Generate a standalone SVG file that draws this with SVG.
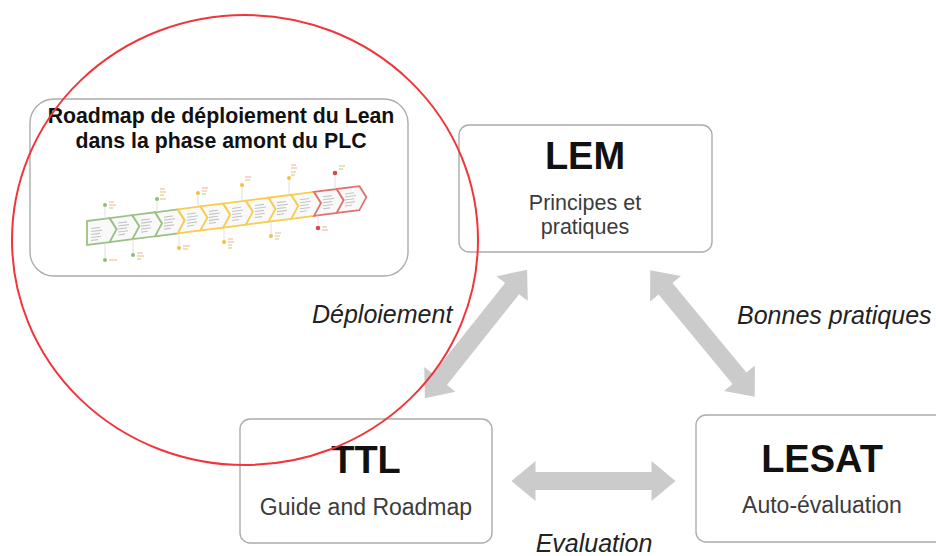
<svg xmlns="http://www.w3.org/2000/svg" xmlns:xlink="http://www.w3.org/1999/xlink" width="936" height="556" viewBox="0 0 936 556">
  <style>
    .box { fill: #ffffff; stroke: #acacac; stroke-width: 1.4; }
    .title { font-family: "Liberation Sans", Arial, sans-serif; font-weight: bold; fill: #111111; text-anchor: middle; }
    .sub { font-family: "Liberation Sans", Arial, sans-serif; font-size: 23px; fill: #3c3c3c; text-anchor: middle; }
    .sub2 { font-family: "Liberation Sans", Arial, sans-serif; font-size: 21.5px; fill: #3c3c3c; text-anchor: middle; }
    .lbl { font-family: "Liberation Sans", Arial, sans-serif; font-style: italic; font-size: 25px; fill: #222222; }
    .arrow { fill: #cbcbcb; }
    .chev { fill: #f9f9f9; stroke-width: 1.8; stroke-linejoin: miter; }
    .g { stroke: #9cc283; }
    .y { stroke: #f6cd4c; }
    .r { stroke: #df7373; }
    .tx { stroke: #c4c4c4; stroke-width: 1.1; fill: none; }
    .lead { stroke: #d8d8d8; stroke-width: 0.8; }
  </style>
  <defs>
    <polygon id="dbl" points="-82,0 -58,-20 -58,-9 58,-9 58,-20 82,0 58,20 58,9 -58,9 -58,20"/>
  </defs>
  <rect width="936" height="556" fill="#ffffff"/>

  <g id="connectors">
    <use xlink:href="#dbl" class="arrow" transform="translate(476,334) rotate(-51.45)"/>
    <use xlink:href="#dbl" class="arrow" transform="translate(702.5,333.5) rotate(50.4)"/>
    <use xlink:href="#dbl" class="arrow" transform="translate(593.5,481)"/>
  </g>

  <g id="labels">
    <text class="lbl" x="312" y="323">Déploiement</text>
    <text class="lbl" x="737" y="324">Bonnes pratiques</text>
    <text class="lbl" x="594" y="552" text-anchor="middle">Evaluation</text>
  </g>

  <g id="node-roadmap">
    <rect class="box" x="30" y="99" width="378" height="177" rx="24"/>
    <text class="title" font-size="21.3" x="221" y="123">Roadmap de déploiement du Lean</text>
    <text class="title" font-size="21.3" x="221" y="148">dans la phase amont du PLC</text>
    <g transform="translate(87,221) skewY(-7.3)">
      <polygon class="chev g" points="0,0 22.7,0 29.7,12 22.7,24 0,24"/>
      <polygon class="chev g" points="22.7,0 45.4,0 52.4,12 45.4,24 22.7,24 29.7,12"/>
      <polygon class="chev g" points="45.4,0 68.1,0 75.1,12 68.1,24 45.4,24 52.4,12"/>
      <polygon class="chev g" points="68.1,0 90.8,0 97.8,12 90.8,24 68.1,24 75.1,12"/>
      <polygon class="chev y" points="90.8,0 113.5,0 120.5,12 113.5,24 90.8,24 97.8,12"/>
      <polygon class="chev y" points="113.5,0 136.2,0 143.2,12 136.2,24 113.5,24 120.5,12"/>
      <polygon class="chev y" points="136.2,0 158.9,0 165.9,12 158.9,24 136.2,24 143.2,12"/>
      <polygon class="chev y" points="158.9,0 181.6,0 188.6,12 181.6,24 158.9,24 165.9,12"/>
      <polygon class="chev y" points="181.6,0 204.3,0 211.3,12 204.3,24 181.6,24 188.6,12"/>
      <polygon class="chev y" points="204.3,0 227,0 234,12 227,24 204.3,24 211.3,12"/>
      <polygon class="chev r" points="227,0 249.7,0 256.7,12 249.7,24 227,24 234,12"/>
      <polygon class="chev r" points="249.7,0 272.4,0 279.4,12 272.4,24 249.7,24 256.7,12"/>
      <path class="tx" d="M4 8h9M4 11h11M4 14h9M4 17h10M4 20h7
        M31 6h9M31 9h11M31 12h9M31 15h10M31 18h7
        M54 6h9M54 9h11M54 12h9M54 15h10M54 18h7
        M77 6h9M77 9h11M77 12h9M77 15h10M77 18h7
        M100 6h9M100 9h11M100 12h9M100 15h10M100 18h7
        M122 6h9M122 9h11M122 12h9M122 15h10M122 18h7
        M145 6h9M145 9h11M145 12h9M145 15h10M145 18h7
        M168 6h9M168 9h11M168 12h9M168 15h10M168 18h7
        M190 6h9M190 9h11M190 12h9M190 15h10M190 18h7
        M213 6h9M213 9h11M213 12h9M213 15h10M213 18h7
        M236 6h9M236 9h11M236 12h9M236 15h10M236 18h7
        M258 6h9M258 9h11M258 12h9M258 15h10M258 18h7"/>
    </g>
    <g id="markers">
      <path class="lead" d="M105 207V218.7M157 201V212M198 195V206.8M242 187V201M289 180V195M335 175V189
        M105 242.7V258M133 239V253M179 233V246M224 227.5V240M271 221.5V234M318 215.5V225"/>
      <g fill="#8fbf6e">
        <circle cx="105" cy="205" r="2"/><circle cx="157" cy="199" r="2"/>
        <circle cx="105" cy="260" r="2"/><circle cx="133" cy="255" r="2"/>
      </g>
      <g fill="#f3c23c">
        <circle cx="198" cy="193" r="2"/><circle cx="242" cy="185" r="2"/><circle cx="289" cy="178" r="2"/>
        <circle cx="179" cy="248" r="2"/><circle cx="224" cy="242" r="2"/><circle cx="271" cy="236" r="2"/>
      </g>
      <g fill="#d84a4a">
        <circle cx="335" cy="173" r="2.3"/><circle cx="318" cy="228" r="2.3"/>
      </g>
      <path stroke="#eeb58a" stroke-width="1" fill="none" d="M109 202h5M109 205h7
        M160 189h5M160 192h6M160 199h6
        M202 188h6M202 191h5
        M245 177h6M245 180h5
        M291 165h5M291 168h6M291 172h5
        M339 166h6
        M109 260h8
        M137 253h6M137 256h7
        M183 246h7M183 249h5
        M228 239h5M228 242h6M228 245h4
        M275 233h6M275 236h5
        M322 230h6"/>
      <path stroke="#a9d08e" stroke-width="1" fill="none" d="M109 208h4M160 195h4M202 194h4M291 175h4M339 169h4M137 259h4M228 248h4M275 239h4M322 227h5"/>
    </g>
  </g>

  <g id="node-lem">
    <rect class="box" x="459" y="125" width="253" height="127" rx="10"/>
    <text class="title" font-size="38" x="585" y="169">LEM</text>
    <text class="sub2" x="585" y="210">Principes et</text>
    <text class="sub2" x="585" y="234">pratiques</text>
  </g>

  <g id="node-ttl">
    <rect class="box" x="240" y="419" width="252" height="124" rx="10"/>
    <text class="title" font-size="38" x="366" y="473">TTL</text>
    <text class="sub" x="366" y="515">Guide and Roadmap</text>
  </g>

  <g id="node-lesat">
    <rect class="box" x="696" y="415" width="252" height="127" rx="10"/>
    <text class="title" font-size="38" x="822" y="472">LESAT</text>
    <text class="sub" x="822" y="513">Auto-évaluation</text>
  </g>

  <g id="highlight">
    <ellipse cx="245" cy="240" rx="233" ry="225" fill="none" stroke="#f2343c" stroke-width="2"/>
  </g>
</svg>
